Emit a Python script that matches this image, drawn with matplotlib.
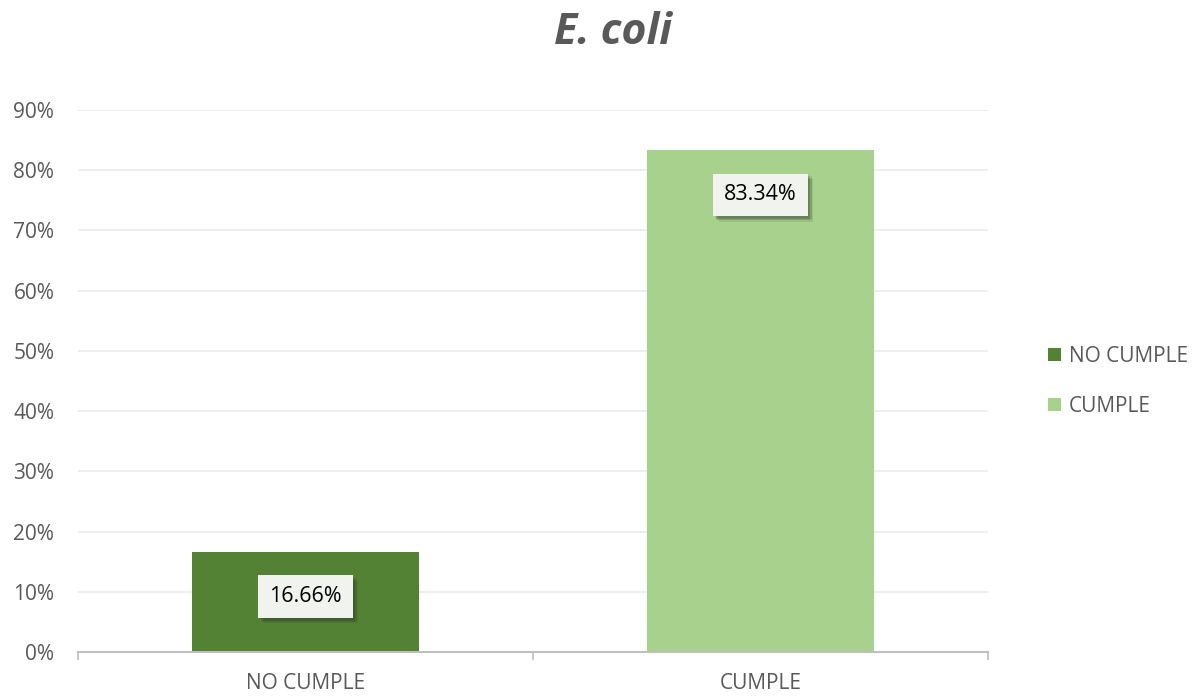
import matplotlib.pyplot as plt
from matplotlib import patheffects
from matplotlib.ticker import PercentFormatter
from matplotlib.patches import Patch

categories = ['NO CUMPLE', 'CUMPLE']
values = [0.1666, 0.8334]
colors = ['#548235', '#A9D18E']
yticks = [0, 0.1, 0.2, 0.3, 0.4, 0.5, 0.6, 0.7, 0.8, 0.9]

plt.rcParams['font.family'] = ['Open Sans', 'DejaVu Sans']
grey = '#595959'

fig = plt.figure(figsize=(11.99, 6.96), dpi=100)
ax = fig.add_axes([0.065, 0.0632, 0.759, 0.779])

x = list(range(len(categories)))
bars = ax.bar(x, values, width=0.5, color=colors, zorder=2)

ax.set_xlim(-0.5, len(categories) - 0.5)
ax.set_ylim(0, 0.9)
ax.set_yticks(yticks)
ax.yaxis.set_major_formatter(PercentFormatter(1.0, decimals=0))
ax.grid(axis='y', color='#EBEBEB', linewidth=1.2, zorder=0)

# category boundaries get tick marks, centers get the labels
ax.set_xticks([i - 0.5 for i in range(len(categories) + 1)])
ax.set_xticklabels([])
ax.set_xticks(x, minor=True)
ax.set_xticklabels(categories, minor=True)
ax.tick_params(axis='x', which='major', length=6, width=1.2, color='#BFBFBF')
ax.tick_params(axis='x', which='minor', length=0, pad=15, labelsize=15, labelcolor=grey)
ax.tick_params(axis='y', length=0, pad=17, labelsize=15, labelcolor=grey)

for side in ['top', 'right', 'left']:
    ax.spines[side].set_visible(False)
ax.spines['bottom'].set_color('#BFBFBF')
ax.spines['bottom'].set_linewidth(1.5)

# soft drop shadow built from a few faint offset copies
shadow = [patheffects.SimplePatchShadow(offset=(dx, -dy), shadow_rgbFace='#2F3F2A', alpha=0.12)
          for dx, dy in [(1, 1), (2, 2), (3, 3), (4, 4), (3, 2), (2, 3)]]

for rect, v in zip(bars, values):
    t = ax.annotate(f'{v * 100:.2f}%', (rect.get_x() + rect.get_width() / 2, v),
                    xytext=(0, -45), textcoords='offset pixels',
                    ha='center', va='center', fontsize=15.5, color='black', zorder=5,
                    bbox=dict(boxstyle='square,pad=0.5', fc='#F0F3EE', ec='none'))
    t.get_bbox_patch().set_path_effects(shadow + [patheffects.Normal()])

fig.text(0.511, 0.953, 'E. coli', ha='center', va='center', fontsize=31,
         fontweight='bold', fontstyle='italic', color=grey)

handles = [Patch(facecolor=c, label=l) for c, l in zip(colors, categories)]
fig.legend(handles=handles, loc='center left', bbox_to_anchor=(0.8655, 0.452),
           frameon=False, fontsize=15, labelcolor=grey, handlelength=0.6,
           handleheight=0.6, handletextpad=0.4, labelspacing=1.4, borderpad=0)

fig.savefig('out.png', dpi=100)
